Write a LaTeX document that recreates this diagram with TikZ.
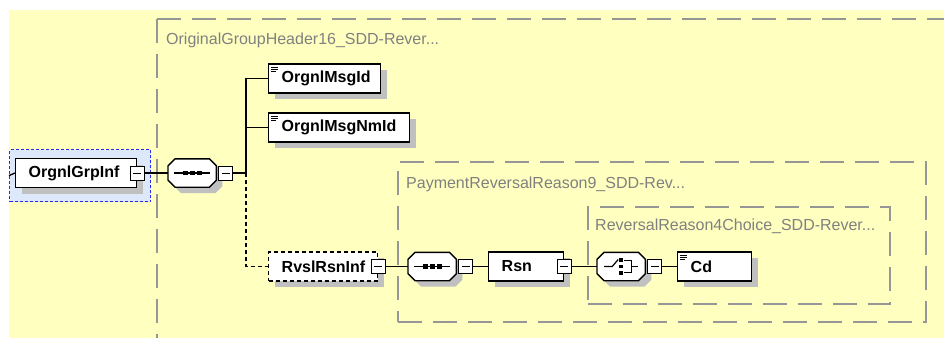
\documentclass[tikz,border=0pt]{standalone}
\usepackage{fontspec}
\setmainfont{Liberation Sans}
\usetikzlibrary{shadows}
\definecolor{bgyellow}{RGB}{255,255,192}
\definecolor{selfill}{RGB}{221,232,250}
\definecolor{selblue}{RGB}{40,40,240}
\definecolor{boxgray}{RGB}{150,150,150}
\definecolor{labgray}{RGB}{128,128,128}
\definecolor{shgray}{RGB}{192,192,192}
\tikzset{
  shd/.style={general shadow={fill=shgray, shadow xshift=6pt, shadow yshift=-6pt}},
  elem/.style={shd, draw=black, line width=1.4pt, fill=white, minimum height=29pt,
    inner xsep=13pt, inner ysep=0pt, align=left, text width=#1,
    font=\fontsize{16}{19}\selectfont\bfseries, anchor=west},
  optelem/.style={elem=#1, dash pattern=on 4pt off 3pt},
  minusbox/.style={draw=black, line width=1pt, fill=white, minimum size=14pt, inner sep=0pt,
    path picture={\draw[line width=1pt] ([xshift=3pt]path picture bounding box.west) -- ([xshift=-3pt]path picture bounding box.east);}},
  compnode/.style={draw=none, minimum width=48pt, minimum height=28pt, inner sep=0pt, anchor=west},
  grpbox/.style={draw=boxgray, line width=1.5pt, dash pattern=on 24pt off 11pt},
  grplabel/.style={text=labgray, font=\fontsize{16}{19}\selectfont, anchor=base west, inner sep=0pt},
  selbox/.style={fill=selfill, draw=selblue, line width=1.2pt, dash pattern=on 3pt off 2pt, inner sep=0pt},
  conn/.style={line width=1.3pt},
  icon/.style={line width=1.2pt},
}
\newcommand\octpath[1]{([xshift=7pt]#1.north west) -- ([xshift=-7pt]#1.north east) -- ([yshift=-7pt]#1.north east) -- ([yshift=7pt]#1.south east) -- ([xshift=-7pt]#1.south east) -- ([xshift=7pt]#1.south west) -- ([yshift=7pt]#1.south west) -- ([yshift=-7pt]#1.north west) -- cycle}
\newcommand\drawoct[1]{%
  \fill[shgray, transform canvas={shift={(6pt,-6pt)}}] \octpath{#1};
  \draw[line width=1.4pt, fill=white] \octpath{#1};}
\newcommand\seqicon[1]{%
  \draw[icon] ([shift={(-18,0)}]#1.center) -- ([shift={(18,0)}]#1.center);
  \foreach \dx in {-7,0,7}{\fill ([shift={(\dx-2.3,-2.3)}]#1.center) rectangle ([shift={(\dx+2.3,2.3)}]#1.center);}}
\newcommand\simpleicon[1]{%
  \draw[line width=0.8pt] ([shift={(3pt,-4pt)}]#1.north west) -- ++(7pt,0pt);
  \draw[line width=0.8pt] ([shift={(3pt,-6pt)}]#1.north west) -- ++(7pt,0pt);
  \draw[line width=0.8pt] ([shift={(3pt,-8pt)}]#1.north west) -- ++(5pt,0pt);}
\begin{document}
\begin{tikzpicture}[x=1pt,y=-1pt]
\useasboundingbox (0,0) rectangle (944,338);
\fill[white] (0,0) rectangle (944,338);
\fill[bgyellow] (9,10) rectangle (944,338);

% group boxes
\draw[grpbox] (157,19) -- (944,19);
\draw[grpbox] (157,19) -- (157,338);
\node[grplabel] (lab1) at (166,44) {OriginalGroupHeader16\_SDD-Rever...};
\node[grpbox, anchor=north west, minimum width=528pt, minimum height=160pt, inner sep=0pt] (pay) at (397,161) {};
\node[grplabel] (lab2) at (406,188.5) {PaymentReversalReason9\_SDD-Rev...};
\node[grpbox, anchor=north west, minimum width=302pt, minimum height=97pt, inner sep=0pt] (chbox) at (587,206) {};
\node[grplabel] (lab3) at (595,230) {ReversalReason4Choice\_SDD-Rever...};

% selected root
\node[selbox, anchor=north west, minimum width=141pt, minimum height=52pt] (sel) at (9,149) {};
\node[elem=95pt] (grp) at (15,173) {OrgnlGrpInf};
\node[minusbox] (grpm) at (grp.east) {};

% sequence 1
\node[compnode] (seq1) at (168,173) {};
\drawoct{seq1}
\seqicon{seq1}
\node[minusbox, anchor=west] (seq1m) at ([xshift=2pt]seq1.east) {};
\coordinate (j1) at (246,173);

% children
\node[elem=86pt] (msgid) at (268,78.5) {OrgnlMsgId};
\simpleicon{msgid}
\node[elem=115pt] (nmid) at (268,127.5) {OrgnlMsgNmId};
\simpleicon{nmid}
\node[optelem=83pt] (rvsl) at (268,266.5) {RvslRsnInf};
\node[minusbox] (rvslm) at (rvsl.east) {};

% sequence 2
\node[compnode] (seq2) at (408,266.5) {};
\drawoct{seq2}
\seqicon{seq2}
\node[minusbox, anchor=west] (seq2m) at ([xshift=2pt]seq2.east) {};

\node[elem=49pt] (rsn) at (488,266.5) {Rsn};
\node[minusbox] (rsnm) at (rsn.east) {};

% choice
\node[compnode] (ch) at (597,266.5) {};
\drawoct{ch}
\draw[icon] ([shift={(-17,0)}]ch.center) -- ([shift={(-9,0)}]ch.center) -- ([shift={(-3,-7)}]ch.center);
\fill ([shift={(-1.8,-8.5)}]ch.center) rectangle ([shift={(1.8,-4.5)}]ch.center);
\fill ([shift={(-1.8,-1.8)}]ch.center) rectangle ([shift={(1.8,1.8)}]ch.center);
\fill ([shift={(-1.8,4.5)}]ch.center) rectangle ([shift={(1.8,8.5)}]ch.center);
\draw[icon] ([shift={(3,-6)}]ch.center) -- ([shift={(10,-6)}]ch.center) -- ([shift={(10,6)}]ch.center) -- ([shift={(3,6)}]ch.center);
\draw[icon] ([shift={(10,0)}]ch.center) -- ([shift={(17,0)}]ch.center);
\node[minusbox, anchor=west] (chm) at ([xshift=2pt]ch.east) {};

\node[elem=48pt] (cd) at (677,266.5) {Cd};
\simpleicon{cd}

% connectors
\coordinate (in) at (sel.west);
\draw[conn] (in) -- (grp.west);
\draw[conn] (grpm.east) -- (seq1.west);
\draw[conn] (seq1m.east) -- (j1);
\draw[conn] (j1) |- (msgid.west);
\draw[conn] (j1) |- (nmid.west);
\draw[conn, dash pattern=on 4pt off 3pt] (j1) |- (rvsl.west);
\draw[conn] (rvslm.east) -- (seq2.west);
\draw[conn] (seq2m.east) -- (rsn.west);
\draw[conn] (rsnm.east) -- (ch.west);
\draw[conn] (chm.east) -- (cd.west);
\end{tikzpicture}
\end{document}
